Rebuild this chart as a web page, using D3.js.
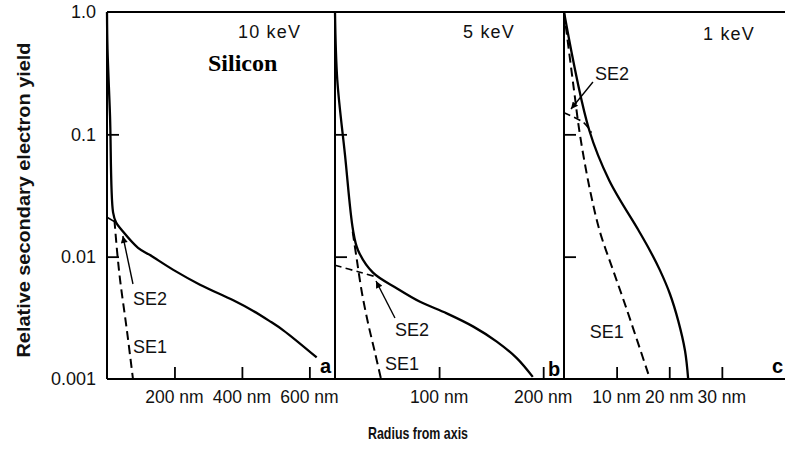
<!DOCTYPE html>
<html><head><meta charset="utf-8">
<script src="https://cdn.jsdelivr.net/npm/d3@7/dist/d3.min.js"></script>
<style>
html,body{margin:0;padding:0;background:#fff;}
svg{display:block;font-family:"Liberation Sans",Arial,Helvetica,sans-serif;}
</style></head>
<body><svg id="chart" width="785" height="464"></svg>
<script>
// ---------------- DATA ----------------
const panelIds = ["a", "b", "c"];
const energyLabels = ["10 keV", "5 keV", "1 keV"];
const xDomainMax = [676, 220, 42];            // nm
const xTicksA = [200, 400, 600];
const xTicksB = [100, 200];
const xTicksC = [10, 20, 30];
const xTickUnit = "nm";
const yTickValues = [1.0, 0.1, 0.01, 0.001];
const yTickLabels = ["1.0", "0.1", "0.01", "0.001"];
const innerYTicks = [0.1, 0.01];

// [radius nm, relative yield]
const totalA = [[0,1.0],[1.5,0.5],[9,0.14],[18,0.023],[27,0.019],[43.6,0.0165],[92,0.0118],[127.5,0.0103],[196.6,0.0078],[275.7,0.0059],[374.4,0.0044],[433.7,0.0036],[480,0.0030],[522.7,0.0025],[621.7,0.0015]];
const se1A   = [[22,0.02],[30,0.011],[39,0.0064],[59,0.0025],[77,0.001]];
const se2A   = [[0,0.021],[27,0.019]];

const totalB = [[0,1.0],[2.2,0.278],[9.6,0.068],[17.3,0.0165],[22.1,0.0113],[36.5,0.0074],[59.6,0.0055],[81.7,0.00428],[107.3,0.00344],[132.9,0.00268],[155.4,0.00202],[174.6,0.00148],[190,0.00104]];
const se1B   = [[17,0.016],[21,0.0094],[26,0.0050],[32,0.0028],[38,0.0017],[44,0.00102]];
const se2B   = [[0,0.0085],[23,0.0075],[38,0.0069]];

const totalC = [[0,1.0],[4.8,0.108],[8.6,0.042],[14.1,0.0166],[16.3,0.0113],[18.2,0.0078],[20.1,0.0050],[21.7,0.0030],[23.0,0.0017],[23.6,0.001]];
const se1C   = [[0,1.0],[1.9,0.23],[3.04,0.0987],[4.94,0.035],[6.84,0.0159],[9.31,0.0078],[11.97,0.00366],[16.34,0.001]];
const se2C   = [[0,0.15],[3.8,0.124],[5.2,0.103]];

// annotations in data coordinates [radius, yield]
const se2LabelAt = [[77,0.00403],[57.6,0.00225],[5.9,0.278]];
const se1LabelAt = [[77,0.00163],[48,0.00118],[4.9,0.00216]];
const arrowFrom  = [[77,0.00598],[57.6,0.00315],[5.5,0.268]];
const arrowTo    = [[47,0.01476],[39.4,0.00632],[1.33,0.161]];

const materialLabel = "Silicon";
const yTitle = "Relative secondary electron yield";
const xTitle = "Radius from axis";

// ---------------- LAYOUT ----------------
const svg = d3.select("#chart");
const yTopPx = 12, yBotPx = 379;
const edges = [107, 335, 564, 785];
const y = d3.scaleLog().domain([0.001, 1]).range([yBotPx, yTopPx]);

const defs = svg.append("defs");
defs.append("marker").attr("id","ah").attr("viewBox","0 0 10 10")
  .attr("refX",10).attr("refY",5).attr("markerWidth",10).attr("markerHeight",7)
  .attr("markerUnits","userSpaceOnUse").attr("orient","auto")
  .append("path").attr("d","M0,0 L10,5 L0,10 Z").attr("fill","#000");

const panels = [
  {total: totalA, se1: se1A, se2: se2A, ticks: xTicksA},
  {total: totalB, se1: se1B, se2: se2B, ticks: xTicksB},
  {total: totalC, se1: se1C, se2: se2C, ticks: xTicksC}
];

const frame = svg.append("g").attr("stroke","#000").attr("stroke-width",2).attr("fill","none");
frame.append("line").attr("x1",edges[0]).attr("x2",edges[3]).attr("y1",yTopPx).attr("y2",yTopPx);
frame.append("line").attr("x1",edges[0]).attr("x2",edges[3]).attr("y1",yBotPx).attr("y2",yBotPx);
[0,1,2].forEach(i => frame.append("line").attr("x1",edges[i]).attr("x2",edges[i]).attr("y1",yTopPx).attr("y2",yBotPx));

panels.forEach((p, i) => {
  const x = d3.scaleLinear().domain([0, xDomainMax[i]]).range([edges[i], edges[i+1]]);
  const g = svg.append("g");

  const ya = g.append("g").attr("transform", `translate(${edges[i]},0)`)
    .call(d3.axisRight(y).tickValues(innerYTicks).tickSize(12).tickFormat(""));
  ya.select(".domain").remove();
  ya.selectAll("line").attr("stroke","#000").attr("stroke-width",1.8);

  const xa = g.append("g").attr("transform", `translate(0,${yBotPx})`)
    .call(d3.axisTop(x).tickValues(p.ticks).tickSize(12).tickFormat(""));
  xa.select(".domain").remove();
  xa.selectAll("line").attr("stroke","#000").attr("stroke-width",1.8);

  g.selectAll("text.xt").data(p.ticks).enter().append("text")
    .attr("x", d => x(d)).attr("y", 403).attr("text-anchor","middle")
    .attr("font-size", 17.5).attr("fill","#111")
    .text(d => `${d} ${xTickUnit}`);

  const line = d3.line().x(d => x(d[0])).y(d => y(d[1])).curve(d3.curveCatmullRom.alpha(0.5));
  g.append("path").attr("d", line(p.total)).attr("fill","none").attr("stroke","#000").attr("stroke-width",2.3);
  g.append("path").attr("d", line(p.se1)).attr("fill","none").attr("stroke","#000").attr("stroke-width",2)
    .attr("stroke-dasharray","9,5");
  g.append("path").attr("d", line(p.se2)).attr("fill","none").attr("stroke","#000").attr("stroke-width",1.6)
    .attr("stroke-dasharray", i === 0 ? null : "7,4");

  g.append("line")
    .attr("x1", x(arrowFrom[i][0])).attr("y1", y(arrowFrom[i][1]))
    .attr("x2", x(arrowTo[i][0])).attr("y2", y(arrowTo[i][1]))
    .attr("stroke","#000").attr("stroke-width",1.4).attr("marker-end","url(#ah)");

  g.append("text").attr("x", x(se2LabelAt[i][0])).attr("y", y(se2LabelAt[i][1]))
    .attr("font-size",18).attr("fill","#111").text("SE2");
  g.append("text").attr("x", x(se1LabelAt[i][0])).attr("y", y(se1LabelAt[i][1]))
    .attr("font-size",18).attr("fill","#111").text("SE1");
});

const energyPos = [[238,38],[463,38],[703,40]];
energyLabels.forEach((t,i) => svg.append("text").attr("x",energyPos[i][0]).attr("y",energyPos[i][1])
  .attr("font-size",18).attr("letter-spacing","1.2px").attr("fill","#111").text(t));

const letterPos = [[320,373],[548,376],[772,373]];
panelIds.forEach((t,i) => svg.append("text").attr("x",letterPos[i][0]).attr("y",letterPos[i][1])
  .attr("font-size",20).attr("font-weight","bold").attr("fill","#000").text(t));

svg.append("text").attr("x",208).attr("y",71).attr("font-family","'Liberation Serif','Times New Roman',serif")
  .attr("font-size",24).attr("font-weight","bold").attr("fill","#000").text(materialLabel);

svg.selectAll("text.yl").data(yTickValues).enter().append("text")
  .attr("x", 96).attr("y", d => y(d)).attr("dy","0.35em").attr("text-anchor","end")
  .attr("font-size",18).attr("fill","#111").text((d,i) => yTickLabels[i]);

svg.append("text").attr("transform","translate(30,200) rotate(-90)").attr("text-anchor","middle")
  .attr("font-size",19).attr("font-weight","bold").attr("fill","#111")
  .attr("textLength",315).attr("lengthAdjust","spacingAndGlyphs").text(yTitle);

svg.append("text").attr("x",418).attr("y",439).attr("text-anchor","middle")
  .attr("font-size",17).attr("font-weight","bold").attr("fill","#111")
  .attr("textLength",100).attr("lengthAdjust","spacingAndGlyphs").text(xTitle);
</script></body></html>
